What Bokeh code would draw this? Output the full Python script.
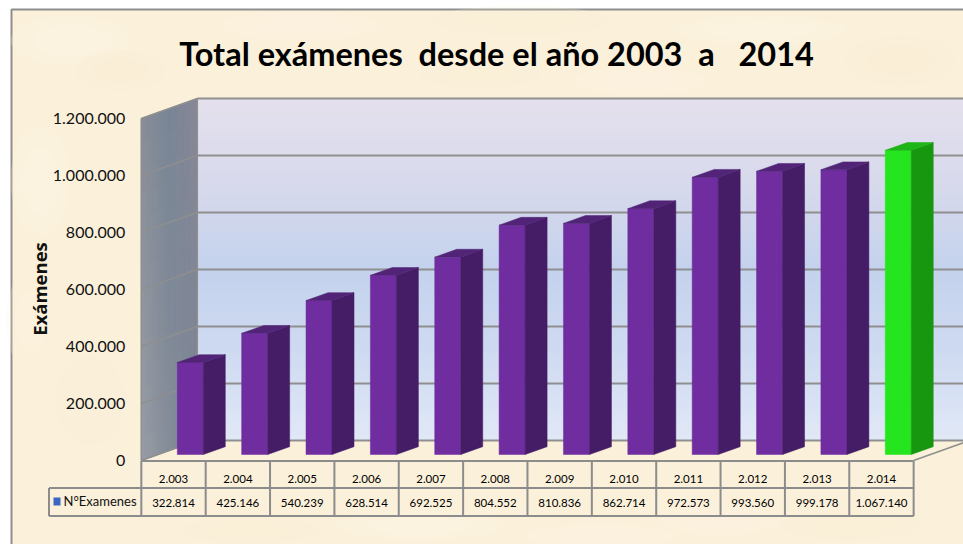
from bokeh.plotting import figure
from bokeh.models import Range1d, LinearAxis, FixedTicker
from bokeh.core.properties import value
from bokeh.embed import file_html
from bokeh.resources import INLINE

years = ["2.003","2.004","2.005","2.006","2.007","2.008","2.009","2.010","2.011","2.012","2.013","2.014"]
examenes = [322814,425146,540239,628514,692525,804552,810836,862714,972573,993560,999178,1067140]
examenes_txt = ["322.814","425.146","540.239","628.514","692.525","804.552","810.836","862.714","972.573","993.560","999.178","1.067.140"]
y_ticks = [0,200000,400000,600000,800000,1000000,1200000]
y_tick_labels = ["0","200.000","400.000","600.000","800.000","1.000.000","1.200.000"]
title = "Total exámenes\u00a0\u00a0desde el año 2003\u00a0\u00a0a\u00a0\u00a0\u00a02014"
series_name = "N°Examenes"
y_title = "Exámenes"

W, H = 963, 544
FONT = value("Lato")
PX_X = 64.36
PX_Y = 57 / 200000
# reference pixel -> data helpers for the chart furniture
fx = lambda px: (px - 173) / PX_X
fy = lambda py: (460 - py) / PX_Y
DX = 56 / PX_X
DY = 20 / PX_Y
BAR_W = 26 / PX_X
D0, D1 = 0.30, 0.30 + 22 / 56
n = len(years)
XL, XR = -0.5, n - 0.5
YMAX = y_ticks[-1]

p = figure(width=W, height=H, output_backend="svg", toolbar_location=None,
           x_range=Range1d(fx(0), fx(963)), y_range=Range1d(fy(544), fy(0)),
           x_axis_location=None, y_axis_location=None, min_border=0,
           outline_line_color=None, background_fill_color="white", border_fill_color="white")
p.grid.visible = False

# slide background and its frame
p.quad(left=[fx(11)], right=[fx(1000)], bottom=[fy(600)], top=[fy(9)],
       fill_color="#fbf0da", line_color="#8e8e8e", line_width=2)
# soft parchment mottling
blob_x = [70, 120, 40, 300, 520, 760, 900, 640, 420, 90, 250, 600, 850, 30, 480, 720]
blob_y = [40, 70, 180, 25, 20, 30, 60, 80, 525, 400, 530, 535, 525, 320, 75, 520]
blob_w = [120, 90, 60, 160, 180, 170, 110, 130, 170, 70, 140, 150, 140, 50, 120, 120]
blob_h = [50, 40, 110, 30, 30, 30, 50, 30, 30, 90, 25, 25, 30, 100, 25, 30]
blob_c = ["#fff8ea", "#f9ecd3", "#fff8ea", "#fff6e6", "#f9eed6", "#fff8ea", "#f9edd3", "#fff7e8",
          "#fff8ec", "#fbf1dc", "#f9eed6", "#fff7e8", "#f9eed6", "#fdf4e2", "#f9eed6", "#fff7e8"]
for a in (1.0, 0.62):
    p.ellipse(x=[fx(v) for v in blob_x], y=[fy(v) for v in blob_y],
              width=[a * v / PX_X for v in blob_w], height=[a * v / PX_Y for v in blob_h],
              fill_color=blob_c, fill_alpha=0.2, line_color=None)

def lerp(stops, t):
    for (t0, c0), (t1, c1) in zip(stops, stops[1:]):
        if t <= t1:
            f = (t - t0) / (t1 - t0)
            return tuple(round(a + (b - a) * f) for a, b in zip(c0, c1))
    return stops[-1][1]
def hexc(c):
    return "#%02x%02x%02x" % c

# back wall gradient
stops = [(0, (229,224,237)), (.3, (212,216,236)), (.5, (196,210,237)), (.75, (207,219,241)), (1, (224,232,247))]
NB = 70
ql, qr, qb, qt, qc = [], [], [], [], []
for k in range(NB):
    ql.append(XL + DX); qr.append(XR + DX)
    qb.append(DY + YMAX * (NB - 1 - k) / NB)
    qt.append(DY + YMAX * (NB - k) / NB)
    qc.append(hexc(lerp(stops, (k + .5) / NB)))
p.quad(left=ql, right=qr, bottom=qb, top=qt, fill_color=qc, line_color=qc, line_width=1)

# left wall gradient (across depth and height)
top_stops = [(0, (137,141,150)), (.5, (120,133,150)), (1, (135,135,150))]
bot_stops = [(0, (152,157,166)), (.5, (132,140,152)), (1, (122,132,148))]
xs, ys, cs = [], [], []
ND, NV = 16, 14
for i in range(ND):
    for j in range(NV):
        d0, d1 = i / ND, (i + 1) / ND
        v0, v1 = YMAX * j / NV, YMAX * (j + 1) / NV
        xs.append([XL + d0*DX, XL + d1*DX, XL + d1*DX, XL + d0*DX])
        ys.append([v0 + d0*DY, v0 + d1*DY, v1 + d1*DY, v1 + d0*DY])
        a = lerp(top_stops, (i + .5) / ND); b = lerp(bot_stops, (i + .5) / ND)
        f = (j + .5) / NV
        cs.append(hexc(tuple(round(y + (x - y) * f) for x, y in zip(a, b))))
p.patches(xs, ys, fill_color=cs, line_color=cs, line_width=1)

# gridlines on walls
GRID = "#8f8f8f"
p.segment(x0=[XL + DX]*len(y_ticks), x1=[XR + DX]*len(y_ticks),
          y0=[t + DY for t in y_ticks], y1=[t + DY for t in y_ticks], line_color=GRID, line_width=2)
p.segment(x0=[XL]*len(y_ticks), x1=[XL + DX]*len(y_ticks),
          y0=y_ticks, y1=[t + DY for t in y_ticks], line_color=GRID, line_width=1.5)
p.segment(x0=[XL, XL + DX, XR], x1=[XL, XL + DX, XR + DX],
          y0=[0, DY, 0], y1=[YMAX, YMAX + DY, DY], line_color=GRID, line_width=1.5)

# 3-D bars
fc, sc, tc = [], [], []
for i in range(n):
    green = i == n - 1
    fc.append("#25e61e" if green else "#6f2da0")
    sc.append("#17960f" if green else "#451d66")
    tc.append("#1fb418" if green else "#512477")
xc = [i + (D0 * DX) for i in range(n)]
front_l = [c - BAR_W / 2 for c in xc]
front_r = [c + BAR_W / 2 for c in xc]
back_r = [r + (D1 - D0) * DX for r in front_r]
back_l = [l + (D1 - D0) * DX for l in front_l]
base = D0 * DY
lift = (D1 - D0) * DY
p.quad(left=front_l, right=front_r, bottom=[base]*n, top=[base + v for v in examenes],
       fill_color=fc, line_color=fc, line_width=0.5)
p.patches([[a, b, b, a] for a, b in zip(front_r, back_r)],
          [[base, base + lift, base + lift + v, base + v] for v in examenes],
          fill_color=sc, line_color=sc, line_width=0.5)
p.patches([[a, b, c, d] for a, b, c, d in zip(front_l, front_r, back_r, back_l)],
          [[base + v, base + v, base + lift + v, base + lift + v] for v in examenes],
          fill_color=tc, line_color=tc, line_width=0.5)

# data table under the plot
T = "#8c8c8c"
ROW1, ROW2, ROW3 = fy(460.5), fy(487.5), fy(515.5)
LEG_L = fx(48.5)
p.segment(x0=[XL, LEG_L, LEG_L], x1=[XR, XR, XR], y0=[ROW1, ROW2, ROW3], y1=[ROW1, ROW2, ROW3],
          line_color=T, line_width=2)
edges = [XL + k for k in range(n + 1)]
p.segment(x0=edges, x1=edges, y0=[ROW1]*(n + 1), y1=[ROW2]*(n + 1), line_color=T, line_width=2)
p.segment(x0=[LEG_L] + edges, x1=[LEG_L] + edges, y0=[ROW2]*(n + 2), y1=[ROW3]*(n + 2), line_color=T, line_width=2)
p.text(x=list(range(n)), y=[fy(502)]*n, text=examenes_txt, text_font=FONT, text_font_size="11.5px",
       text_color="black", text_align="center", text_baseline="middle")
p.quad(left=[fx(53)], right=[fx(60)], bottom=[fy(505)], top=[fy(497)], fill_color="#3a66c4", line_color=None)
p.text(x=[fx(63)], y=[fy(500.5)], text=[series_name], text_font=FONT, text_font_size="13px",
       text_color="#111111", text_align="left", text_baseline="middle")

# axes
ya = LinearAxis(fixed_location=XL, ticker=FixedTicker(ticks=y_ticks),
                major_label_overrides=dict(zip(y_ticks, y_tick_labels)),
                major_tick_line_color=None, minor_tick_line_color=None, axis_line_color=None,
                major_label_standoff=10, major_label_text_font="Lato",
                major_label_text_font_size="16px", major_label_text_color="#111111")
p.add_layout(ya, "left")
xa = LinearAxis(fixed_location=0, ticker=FixedTicker(ticks=list(range(n))),
                major_label_overrides=dict(zip(range(n), years)),
                major_tick_line_color=None, minor_tick_line_color=None, axis_line_color=None,
                major_label_standoff=8, major_label_text_font="Lato",
                major_label_text_font_size="11.5px", major_label_text_color="black",
                major_label_orientation="horizontal")
p.add_layout(xa, "below")

# titles
p.text(x=[fx(496)], y=[fy(53)], text=[title], text_font=FONT, text_font_size="32.5px",
       text_font_style="bold", text_color="black", text_align="center", text_baseline="middle")
p.text(x=[fx(39)], y=[fy(288.5)], text=[y_title], angle=[1.5708], text_font=value("Open Sans"), text_font_size="18.5px",
       text_font_style="bold", text_color="#111111", text_align="center", text_baseline="middle")

open("out.html", "w").write(file_html(p, INLINE))
